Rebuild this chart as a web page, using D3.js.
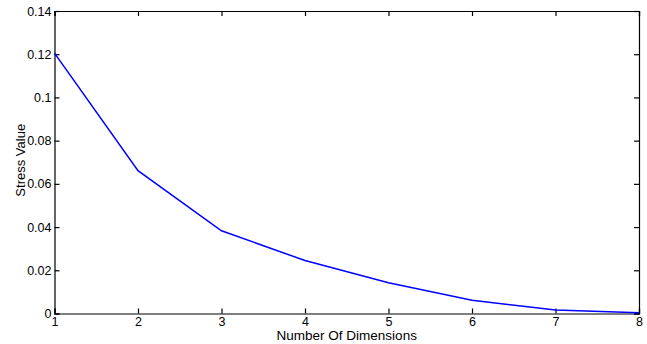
<!DOCTYPE html>
<html>
<head>
<meta charset="utf-8">
<script src="https://cdn.jsdelivr.net/npm/d3@7"></script>
<style>
  body { margin: 0; background: #fff; }
  svg { display: block; font-family: "Liberation Sans", Arial, sans-serif; }
</style>
</head>
<body>
<div id="chart"></div>
<script>
// data
const dimensions = [1, 2, 3, 4, 5, 6, 7, 8];
const stress = [0.1205, 0.0661, 0.0383, 0.0245, 0.0142, 0.0061, 0.0016, 0.0003];
const yTicks = [0, 0.02, 0.04, 0.06, 0.08, 0.1, 0.12, 0.14];

const width = 647;
const height = 344;
const margin = {top: 11, right: 8, bottom: 30.5, left: 54.5};

const svg = d3.select("#chart")
  .append("svg")
  .attr("width", width)
  .attr("height", height);

const x = d3.scaleLinear()
  .domain([1, 8])
  .range([margin.left, width - margin.right]);

const y = d3.scaleLinear()
  .domain([0, 0.14])
  .range([height - margin.bottom, margin.top]);

const fmt = d => d === 0 ? "0" : String(+d.toFixed(2));

// axes with inward ticks on all four sides (matlab style)
svg.append("g")
  .attr("transform", `translate(0,${y(0)})`)
  .call(d3.axisBottom(x).tickValues(dimensions).tickSize(-5).tickPadding(3.5).tickFormat(d3.format("d")));

svg.append("g")
  .attr("transform", `translate(0,${y(0.14)})`)
  .call(d3.axisTop(x).tickValues(dimensions).tickSize(-5).tickFormat(""));

svg.append("g")
  .attr("transform", `translate(${x(1)},0)`)
  .call(d3.axisLeft(y).tickValues(yTicks).tickSize(-5).tickPadding(3).tickFormat(fmt));

svg.append("g")
  .attr("transform", `translate(${x(8)},0)`)
  .call(d3.axisRight(y).tickValues(yTicks).tickSize(-5).tickFormat(""));

svg.selectAll(".domain, .tick line")
  .attr("stroke", "#000")
  .attr("stroke-width", 1.2);

svg.selectAll(".tick text")
  .attr("fill", "#000")
  .style("font-size", "12.5px");

// the line
const line = d3.line()
  .x((d, i) => x(dimensions[i]))
  .y(d => y(d));

svg.append("path")
  .datum(stress)
  .attr("fill", "none")
  .attr("stroke", "#0000ff")
  .attr("stroke-width", 1.5)
  .attr("d", line);

// labels
svg.append("text")
  .attr("x", (x(1) + x(8)) / 2)
  .attr("y", 339.5)
  .attr("text-anchor", "middle")
  .style("font-size", "13.5px")
  .text("Number Of Dimensions");

svg.append("text")
  .attr("transform", `translate(25,${(y(0) + y(0.14)) / 2 - 2}) rotate(-90)`)
  .attr("text-anchor", "middle")
  .style("font-size", "13px")
  .text("Stress Value");
</script>
</body>
</html>
